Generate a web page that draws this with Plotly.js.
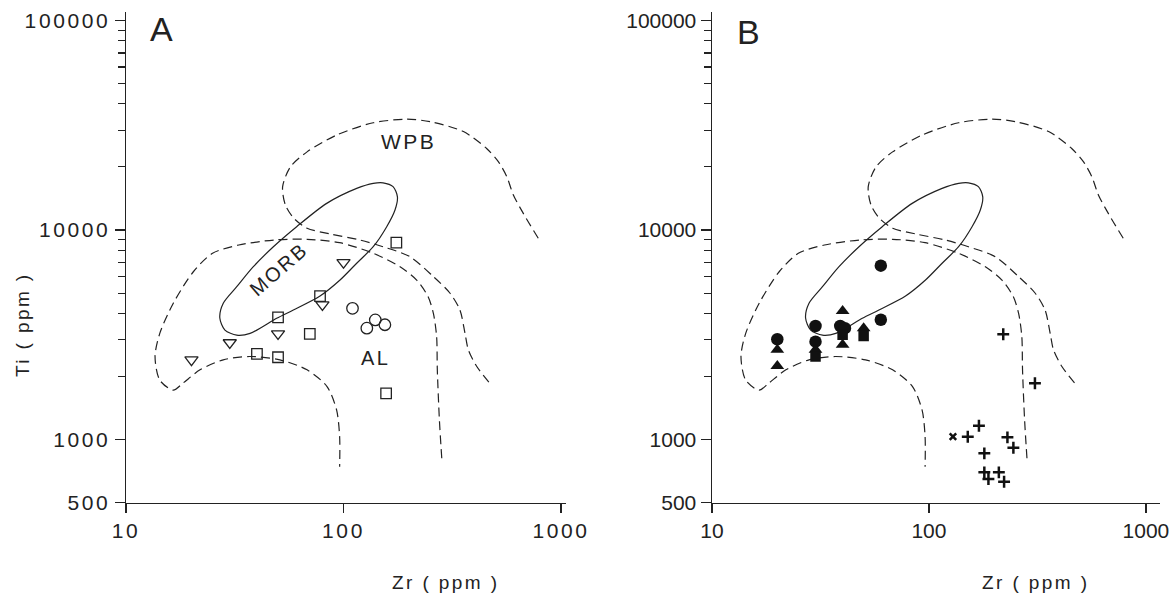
<!DOCTYPE html>
<html>
<head>
<meta charset="utf-8">
<script src="https://cdn.plot.ly/plotly-3.0.1.min.js"></script>
<style>
  html, body { margin: 0; padding: 0; background: #fff; }
  #chart { width: 1174px; height: 594px; }
  .xtick text, .ytick text { letter-spacing: 2.6px; }
  .annotation-text { letter-spacing: 2.4px; }
</style>
</head>
<body>
<div id="chart"></div>
<script>
// ---- Field boundaries (Zr ppm, Ti ppm) ----
const wpbZr = [786, 671, 604, 563, 515, 455, 356, 250, 195, 137, 93, 68, 57, 52.5, 54, 59, 68, 87, 119, 152, 202, 259, 309, 343, 362, 375, 410, 480];
const wpbTi = [9130, 12000, 14700, 18000, 21200, 24500, 29500, 32900, 33800, 32500, 28400, 23600, 20000, 16100, 13200, 11400, 10200, 9570, 8960, 8320, 7460, 5990, 4990, 4150, 3210, 2680, 2230, 1810];

const alZr = [283, 276, 270, 268, 259, 245, 217, 182, 137, 96, 68, 48, 33, 25, 20.4, 16.5, 14.3, 13.6, 14.3, 16.5, 18.3, 21.9, 28, 37, 51, 68, 84, 93, 96, 96];
const alTi = [813, 1240, 2150, 3100, 4000, 4800, 5770, 6680, 7740, 8700, 9030, 8960, 8480, 7740, 6320, 4470, 3210, 2490, 1920, 1720, 1860, 2150, 2400, 2490, 2400, 2150, 1790, 1380, 1030, 742];

const morbZr = [27, 28, 32.3, 38.5, 47.6, 60.9, 83.7, 115, 137, 152, 169, 177, 172.5, 158, 137, 115, 96.4, 78, 58.8, 49.3, 37.2, 32.3, 28.5, 27];
const morbTi = [3800, 4470, 5360, 6680, 8320, 10370, 13400, 15800, 16700, 16800, 16100, 14400, 12460, 10370, 8320, 6940, 5770, 4840, 4150, 3790, 3210, 3150, 3330, 3800];

// ---- Panel A samples ----
const aTriZr = [20, 30, 50, 80, 100];
const aTriTi = [2400, 2900, 3200, 4400, 7000];
const aSqZr = [175, 78, 50, 70, 40, 50, 157];
const aSqTi = [8700, 4840, 3830, 3190, 2560, 2470, 1660];
const aCirZr = [110, 140, 128, 155];
const aCirTi = [4230, 3720, 3400, 3530];

// ---- Panel B samples ----
const bCirZr = [20, 30, 30, 39, 41, 60, 60];
const bCirTi = [3010, 3480, 2930, 3480, 3400, 6760, 3730];
const bTriZr = [20, 20, 30, 40, 40, 50];
const bTriTi = [2680, 2240, 2680, 4110, 2830, 3400];
const bSqZr = [30, 40, 50];
const bSqTi = [2490, 3160, 3120];
const bPlusZr = [220, 308, 170, 151, 230, 245, 180, 180, 188, 210, 222];
const bPlusTi = [3180, 1855, 1164, 1031, 1024, 914, 859, 697, 648, 697, 629];
const bXZr = [129];
const bXTi = [1031];

// ---- Axis ticks ----
const xTicks = [10, 100, 1000];
const xTickText = ['10', '100', '1000'];
const yTicks = [500, 1000, 10000, 100000];
const yTickText = ['500', '1000', '10000', '100000'];
const yMinor = [2000, 3000, 4000, 5000, 6000, 7000, 8000, 9000, 20000, 30000, 40000, 50000, 60000, 70000, 80000, 90000];

const ink = '#222222';
const dashStyle = '9px,5px';

function fieldTraces(xa, ya) {
  return [
    {x: wpbZr, y: wpbTi, xaxis: xa, yaxis: ya, mode: 'lines', type: 'scatter',
     line: {color: ink, width: 1.2, dash: dashStyle, shape: 'spline', smoothing: 0.8}, hoverinfo: 'skip'},
    {x: alZr, y: alTi, xaxis: xa, yaxis: ya, mode: 'lines', type: 'scatter',
     line: {color: ink, width: 1.2, dash: dashStyle, shape: 'spline', smoothing: 0.8}, hoverinfo: 'skip'},
    {x: morbZr, y: morbTi, xaxis: xa, yaxis: ya, mode: 'lines', type: 'scatter',
     line: {color: ink, width: 1.2, shape: 'spline', smoothing: 0.8}, hoverinfo: 'skip'}
  ];
}

const traces = [
  ...fieldTraces('x', 'y'),
  {x: aTriZr, y: aTriTi, mode: 'markers', type: 'scatter', xaxis: 'x', yaxis: 'y',
   marker: {symbol: 'triangle-down-open', size: 11.5, color: ink, line: {width: 1.3, color: ink}}},
  {x: aSqZr, y: aSqTi, mode: 'markers', type: 'scatter', xaxis: 'x', yaxis: 'y',
   marker: {symbol: 'square-open', size: 10.5, color: ink, line: {width: 1.3, color: ink}}},
  {x: aCirZr, y: aCirTi, mode: 'markers', type: 'scatter', xaxis: 'x', yaxis: 'y',
   marker: {symbol: 'circle-open', size: 11.5, color: ink, line: {width: 1.3, color: ink}}},
  ...fieldTraces('x2', 'y2'),
  {x: bCirZr, y: bCirTi, mode: 'markers', type: 'scatter', xaxis: 'x2', yaxis: 'y2',
   marker: {symbol: 'circle', size: 12.5, color: '#111'}},
  {x: bTriZr, y: bTriTi, mode: 'markers', type: 'scatter', xaxis: 'x2', yaxis: 'y2',
   marker: {symbol: 'triangle-up', size: 12, color: '#111'}},
  {x: bSqZr, y: bSqTi, mode: 'markers', type: 'scatter', xaxis: 'x2', yaxis: 'y2',
   marker: {symbol: 'square', size: 10.5, color: '#111'}},
  {x: bPlusZr, y: bPlusTi, mode: 'markers', type: 'scatter', xaxis: 'x2', yaxis: 'y2',
   marker: {symbol: 'cross-thin-open', size: 8.5, color: '#111', line: {width: 2.5, color: '#111'}}},
  {x: bXZr, y: bXTi, mode: 'markers', type: 'scatter', xaxis: 'x2', yaxis: 'y2',
   marker: {symbol: 'x-thin-open', size: 6.5, color: '#111', line: {width: 2.5, color: '#111'}}}
];

const W = 1174, H = 594;
const tickFont = {family: 'Liberation Sans, Arial, sans-serif', size: 21, color: ink};

function xAxis(d0, d1, r1, anchor) {
  return {
    type: 'log', domain: [d0 / W, d1 / W], range: [1, r1], anchor: anchor,
    tickmode: 'array', tickvals: xTicks, ticktext: xTickText,
    ticks: 'outside', ticklen: 9, tickwidth: 1.2, tickcolor: ink,
    showline: true, linecolor: ink, linewidth: 1.5,
    showgrid: false, zeroline: false, tickfont: tickFont
  };
}
function yAxis(anchor) {
  return {
    type: 'log', domain: [(H - 502.6) / H, (H - 12) / H], range: [Math.log10(499.8), 5.0406], anchor: anchor,
    tickmode: 'array', tickvals: yTicks, ticktext: yTickText,
    ticks: 'outside', ticklen: 10, tickwidth: 1.2, tickcolor: ink,
    minor: {tickmode: 'array', tickvals: yMinor, ticks: 'outside', ticklen: 7, tickwidth: 1.1, tickcolor: ink, showgrid: false},
    showline: true, linecolor: ink, linewidth: 1.5,
    showgrid: false, zeroline: false, tickfont: tickFont
  };
}

const lab = (text, xr, yr, x, y, size, extra) => Object.assign({
  text: text, xref: xr, yref: yr, x: x, y: y, showarrow: false,
  font: {family: 'Liberation Sans, Arial, sans-serif', size: size, color: ink},
  xanchor: 'center', yanchor: 'middle'
}, extra || {});

const L = Math.log10;
const annotations = [
  lab('A', 'paper', 'paper', 162 / W, 1 - 29 / H, 34),
  lab('B', 'paper', 'paper', 749 / W, 1 - 32 / H, 34),
  lab('WPB', 'x', 'y', L(198), L(26450), 21),
  lab('AL', 'x', 'y', L(141), L(2436), 20),
  lab('MORB', 'x', 'y', L(50.5), L(6513), 20, {textangle: -41}),
  lab('Zr ( ppm )', 'paper', 'paper', 445 / W, 1 - 582 / H, 19),
  lab('Zr ( ppm )', 'paper', 'paper', 1035 / W, 1 - 582 / H, 19),
  lab('Ti ( ppm )', 'paper', 'paper', 22 / W, 1 - 325 / H, 19, {textangle: -90})
];

const layout = {
  width: W, height: H,
  margin: {l: 0, r: 0, t: 0, b: 0},
  paper_bgcolor: '#fff', plot_bgcolor: 'rgba(0,0,0,0)',
  showlegend: false,
  xaxis: xAxis(126, 566, 3.023, 'y'),
  yaxis: yAxis('x'),
  xaxis2: xAxis(712, 1160, 3.065, 'y2'),
  yaxis2: yAxis('x2'),
  annotations: annotations,
  font: {family: 'Liberation Sans, Arial, sans-serif', color: ink}
};

Plotly.newPlot('chart', traces, layout, {staticPlot: true, displayModeBar: false});
</script>
</body>
</html>
